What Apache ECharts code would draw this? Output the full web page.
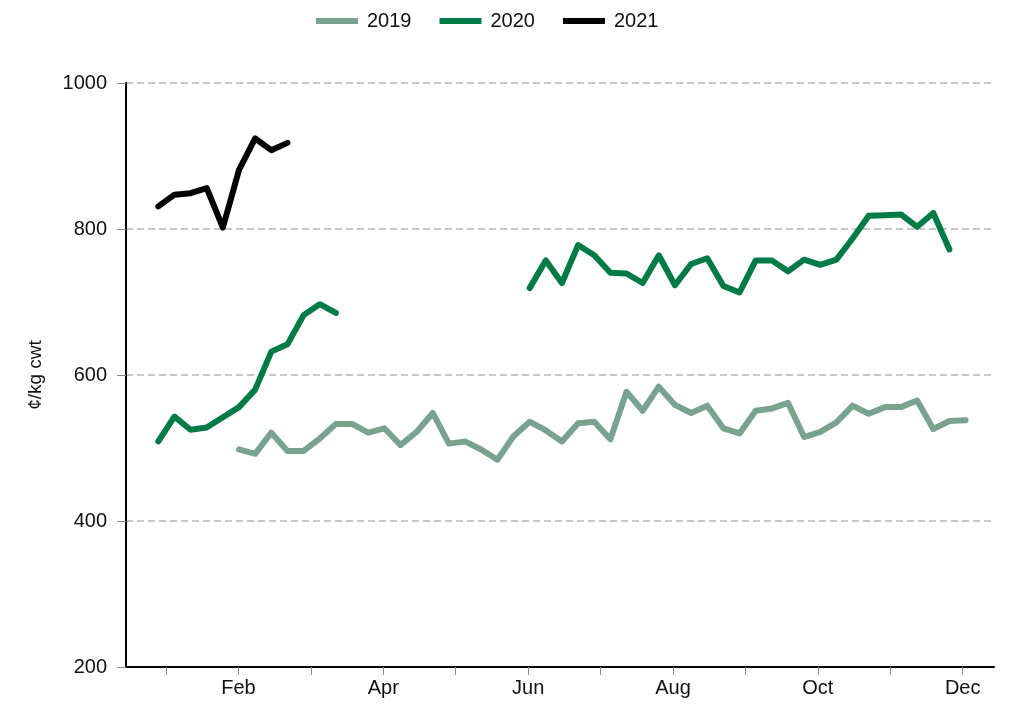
<!DOCTYPE html>
<html>
<head>
<meta charset="utf-8">
<script src="https://cdn.jsdelivr.net/npm/echarts@6/dist/echarts.min.js"></script>
<style>
  html, body { margin: 0; padding: 0; background: #fff; }
  #chart { width: 1012px; height: 709px; }
</style>
</head>
<body>
<div id="chart"></div>
<script>
'use strict';

/*---- data (weekly, week 1 = first point) ----*/
var monthNames = ['Jan', 'Feb', 'Mar', 'Apr', 'May', 'Jun', 'Jul', 'Aug', 'Sep', 'Oct', 'Nov', 'Dec'];
var monthTicks = [1, 2, 3, 4, 5, 6, 7, 8, 9, 10, 11, 12];
var monthLabels = [2, 4, 6, 8, 10, 12];
var yTicks = [200, 400, 600, 800, 1000];

var prices2019 = [null, null, null, null, null,
	498, 492, 521, 496, 496, 513, 533, 533, 521,
	527, 504, 522, 548, 506, 509, 498, 484, 516, 536, 524, 509, 534, 536, 512, 577,
	551, 584, 559, 548, 558, 527, 520, 551, 554, 562, 515, 522, 535, 558, 547, 556, 556, 565, 526, 537, 538];

var prices2020 = [509, 543, 525, 528, 542, 556, 580, 632, 642, 682, 697, 685,
	null, null, null, null, null, null, null, null, null, null, null,
	719, 757, 726, 778, 764, 740, 739, 726, 764, 723, 752, 760, 722, 713,
	757, 757, 742, 758, 751, 758, 787, 818, 819, 820, 803, 822, 772];

var prices2021 = [831, 847, 849, 856, 802, 881, 924, 908, 918];

function toPoints(arr) {
	return arr.map(function (v, i) { return [i + 1, v]; });
}

var font = "'Liberation Sans', Arial, sans-serif";

function lineSeries(name, arr, color) {
	return {
		name: name,
		type: 'line',
		xAxisIndex: 1,
		data: toPoints(arr),
		showSymbol: false,
		connectNulls: false,
		silent: true,
		lineStyle: { color: color, width: 6, cap: 'round', join: 'round' },
		itemStyle: { color: color }
	};
}

var chart = echarts.init(document.getElementById('chart'));

var option = {
	animation: false,
	textStyle: { fontFamily: font },
	legend: {
		left: 311,
		top: 6,
		icon: 'rect',
		itemWidth: 42,
		itemHeight: 6,
		itemGap: 28,
		textStyle: { fontSize: 20, color: '#111', fontFamily: font, padding: [0, 0, 0, 4] },
		data: ['2019', '2020', '2021']
	},
	grid: {
		left: 126,
		right: 18,
		top: 83,
		bottom: 42
	},
	xAxis: [
		{
			type: 'value',
			min: 0.448,
			max: 12.432,
			axisLine: { show: true, onZero: false, lineStyle: { color: '#000', width: 2 } },
			axisTick: {
				show: true,
				customValues: monthTicks,
				length: 8,
				lineStyle: { color: '#888', width: 1 }
			},
			axisLabel: {
				customValues: monthLabels,
				margin: 11,
				fontSize: 20,
				color: '#111',
				fontFamily: font,
				formatter: function (v) { return monthNames[Math.round(v) - 1]; }
			},
			splitLine: { show: false }
		},
		{
			type: 'value',
			min: -1,
			max: 52.76,
			show: false
		}
	],
	yAxis: {
		type: 'value',
		min: yTicks[0],
		max: yTicks[yTicks.length - 1],
		interval: 200,
		name: '¢/kg cwt',
		nameLocation: 'middle',
		nameRotate: 90,
		nameGap: 81,
		nameTextStyle: { fontSize: 19, color: '#111', fontFamily: font },
		axisLine: { show: true, onZero: false, lineStyle: { color: '#000', width: 2 } },
		axisTick: { show: true, length: 9, lineStyle: { color: '#888', width: 1 } },
		axisLabel: {
			margin: 19,
			fontSize: 20,
			color: '#111',
			fontFamily: font,
			formatter: function (v) { return String(v); }
		},
		splitLine: {
			show: true,
			lineStyle: { color: '#c8c8c8', width: 2, type: [7, 4] }
		}
	},
	series: [
		lineSeries('2019', prices2019, '#79a38f'),
		lineSeries('2020', prices2020, '#007a47'),
		lineSeries('2021', prices2021, '#000000')
	]
};

chart.setOption(option);
</script>
</body>
</html>
